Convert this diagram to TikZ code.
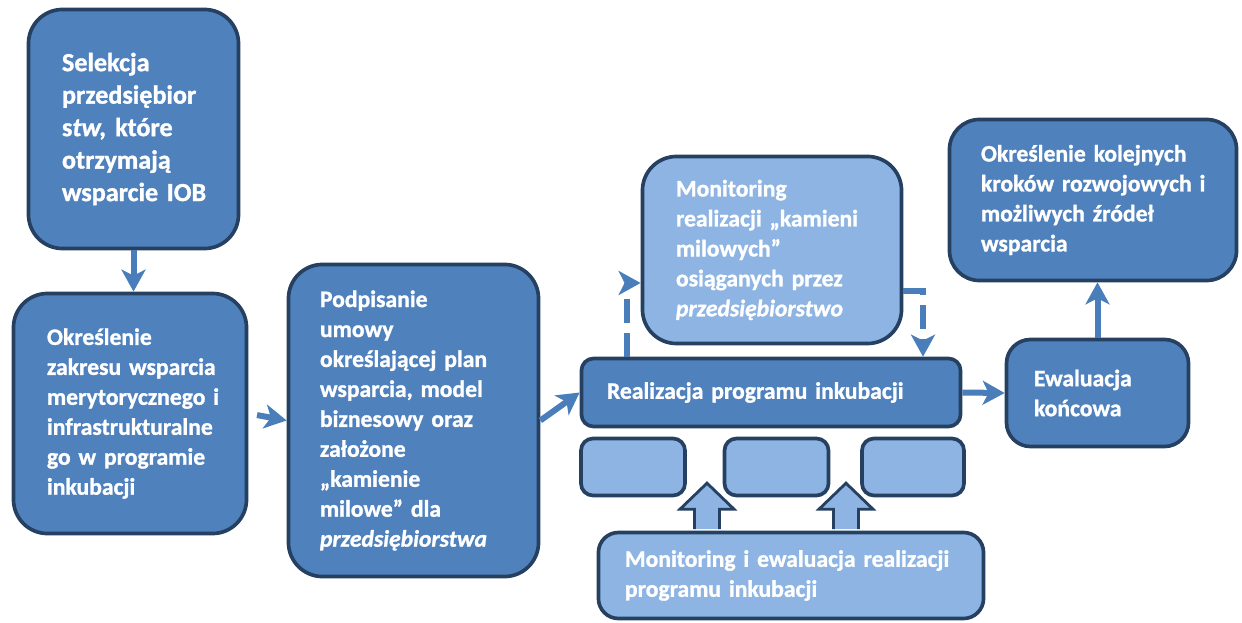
\documentclass[tikz,border=0pt]{standalone}
\usepackage{fontspec}
\setmainfont{Carlito}[BoldFeatures={FakeBold=1.2}, BoldItalicFeatures={FakeBold=1.2}]
\usetikzlibrary{arrows.meta,calc}
\definecolor{BoxFill}{RGB}{79,129,189}
\definecolor{BoxLight}{RGB}{141,180,226}
\definecolor{BoxEdge}{RGB}{37,64,97}
\definecolor{ArrowBlue}{RGB}{74,126,187}
\newcommand{\lw}{2.6pt}

\begin{document}
\begin{tikzpicture}[x=0.025cm, y=-0.025cm,
  box/.style={draw=BoxEdge, line width=\lw, fill=BoxFill, text=white,
    font=\bfseries\fontsize{16.8}{21.3}\selectfont, align=left, inner sep=0pt,
    rounded corners=0.85cm, execute at begin node={\hyphenpenalty=10000 \hbadness=10000 \hfuzz=\maxdimen}},
  lightbox/.style={box, fill=BoxLight},
  conn/.style={draw=ArrowBlue, line width=0.15cm,
    -{Stealth[width=0.6cm, length=0.55cm, inset=0.15cm]}},
  dashconn/.style={conn, dash pattern=on 0.6cm off 0.25cm},
  fatarrow/.style={draw=BoxEdge, line width=2pt, fill=BoxLight, line join=miter}]
  \useasboundingbox (0,0) rectangle (1242,623);

  \node[box, minimum width=5.25cm, minimum height=5.975cm, text width=3.575cm,
    font=\bfseries\fontsize{18.6}{23.1}\selectfont] (sel) at (133.5,129)
    {Selekcja\\ przedsiębior\\ s\textit{tw,}~które\\ otrzymają\\ wsparcie~IOB};
  \node[box, minimum width=5.825cm, minimum height=6cm, text width=4.15cm] (okr) at (130,413.5)
    {Określenie\\ zakresu~wsparcia\\ merytorycznego~i\\ infrastrukturalne\\ go~w~programie\\ inkubacji};
  \node[box, minimum width=6.25cm, minimum height=7.8cm, text width=4.675cm] (pod) at (413.5,420.5)
    {Podpisanie\\ umowy\\ określającej~plan\\ wsparcia,~model\\ biznesowy~oraz\\ założone\\ „kamienie\\ milowe”~dla\\ \textit{przedsiębiorstwa}};
  \node[box, rounded corners=0.3cm, minimum width=9.475cm, minimum height=1.7cm, text width=8.2cm] (real) at (771,392.5)
    {Realizacja~programu~inkubacji};
  \node[lightbox, minimum width=6.475cm, minimum height=4.675cm, text width=4.8cm] (mon) at (772,250)
    {Monitoring\\ realizacji~„kamieni\\ milowych”\\ osiąganych~przez\\ \textit{przedsiębiorstwo}};
  \node[box, rounded corners=0.75cm, minimum width=7.175cm, minimum height=4.025cm, text width=5.6cm] (kol) at (1093,200)
    {Określenie~kolejnych\\ kroków~rozwojowych~i\\ możliwych~źródeł\\ wsparcia};
  \node[box, rounded corners=0.6cm, minimum width=4.55cm, minimum height=2.675cm, text width=3.175cm] (ewa) at (1097.5,393)
    {Ewaluacja\\ końcowa};

  % puste pola pod realizacja
  \node[lightbox, rounded corners=0.3cm, minimum width=2.6cm, minimum height=1.425cm] (etap1) at (633,467) {};
  \node[lightbox, rounded corners=0.3cm, minimum width=2.6cm, minimum height=1.425cm] (etap2) at (776.5,467) {};
  \node[lightbox, rounded corners=0.3cm, minimum width=2.55cm, minimum height=1.425cm] (etap3) at (913,467) {};

  \node[lightbox, rounded corners=0.5cm, minimum width=9.625cm, minimum height=2.15cm, text width=8.3cm] (mie) at (791,575.5)
    {Monitoring~i~ewaluacja~realizacji\\ programu~inkubacji};

  \foreach \dx in {-84,55}
    \draw[fatarrow] ($(mie.north)+(\dx-12.5,-1.5)$) -- ++(0,-20) -- ++(-14.5,0) -- ++(27,-26)
      -- ++(27,26) -- ++(-14.5,0) -- ++(0,20);

  \draw[conn] (sel.south) -- (sel.south |- okr.north);
  \draw[conn, shorten <=0.22cm] (okr.east) -- (pod.west);
  \draw[conn] (pod.east) -- (real.west);
  \draw[conn] (real.east) -- (ewa.west);
  \draw[conn] (ewa.north) -- (ewa.north |- kol.south);

  \coordinate (upturn) at (627,283);
  \coordinate (downturn) at (923,291);
  \draw[dashconn] (real.north -| upturn) -- (upturn) -- (upturn -| mon.west);
  \draw[dashconn] (mon.east |- downturn) -- (downturn) -- (downturn |- real.north);
\end{tikzpicture}
\end{document}
